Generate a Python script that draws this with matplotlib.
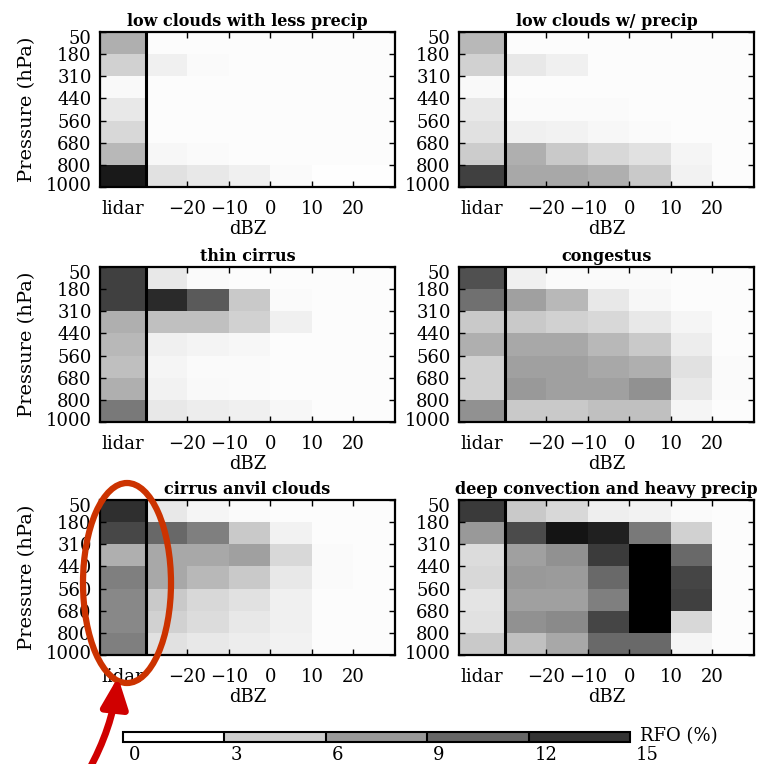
import numpy as np
import matplotlib
matplotlib.use("Agg")
import matplotlib.pyplot as plt
from matplotlib.colors import ListedColormap, BoundaryNorm
from matplotlib.cm import ScalarMappable
from matplotlib.patches import Ellipse, FancyArrowPatch
from matplotlib.transforms import ScaledTranslation

plt.rcParams["font.family"] = ["DejaVu Serif"]

# ---------------------------------------------------------------------------
# RFO (%) per pressure layer (rows, top -> bottom) and column
# (lidar, then dBZ bins -30..-20, -20..-10, -10..0, 0..10, 10..20, 20..30)
# ---------------------------------------------------------------------------

pressure_labels = ["50", "180", "310", "440", "560", "680", "800", "1000"]
dbz_ticks = [-20, -10, 0, 10, 20]
column_edges = [-41, -30, -20, -10, 0, 10, 20, 30]

titles = [
    "low clouds with less precip",
    "low clouds w/ precip",
    "thin cirrus",
    "congestus",
    "cirrus anvil clouds",
    "deep convection and heavy precip",
]

low_less_precip = [
    [4.7, 0.2, 0.2, 0.2, 0.2, 0.2, 0.2],
    [2.7, 0.9, 0.3, 0.2, 0.2, 0.2, 0.2],
    [0.4, 0.2, 0.2, 0.2, 0.2, 0.2, 0.2],
    [1.4, 0.2, 0.2, 0.2, 0.2, 0.2, 0.2],
    [2.3, 0.2, 0.2, 0.2, 0.2, 0.2, 0.2],
    [4.2, 0.5, 0.3, 0.2, 0.2, 0.2, 0.2],
    [13.5, 1.8, 1.4, 0.9, 0.3, 0.1, 0.1],
]

low_with_precip = [
    [4.2, 0.2, 0.2, 0.2, 0.2, 0.2, 0.2],
    [2.7, 1.4, 0.9, 0.2, 0.2, 0.2, 0.2],
    [0.4, 0.2, 0.2, 0.2, 0.2, 0.2, 0.2],
    [1.4, 0.3, 0.3, 0.3, 0.2, 0.2, 0.2],
    [1.8, 0.9, 0.8, 0.5, 0.3, 0.2, 0.2],
    [3.0, 4.7, 3.2, 2.3, 1.8, 0.6, 0.2],
    [11.2, 5.1, 5.1, 4.7, 3.2, 0.8, 0.2],
]

thin_cirrus = [
    [11.2, 1.4, 0.3, 0.2, 0.2, 0.2, 0.2],
    [11.2, 12.5, 9.7, 3.2, 0.3, 0.2, 0.2],
    [4.7, 3.7, 3.7, 2.7, 0.9, 0.2, 0.2],
    [4.2, 0.9, 0.7, 0.5, 0.2, 0.2, 0.2],
    [3.8, 0.6, 0.3, 0.3, 0.2, 0.2, 0.2],
    [4.7, 0.8, 0.4, 0.3, 0.2, 0.2, 0.2],
    [7.9, 1.4, 1.1, 0.9, 0.5, 0.2, 0.2],
]

congestus = [
    [10.3, 0.9, 0.3, 0.3, 0.3, 0.2, 0.2],
    [8.4, 5.6, 4.2, 1.4, 0.5, 0.2, 0.2],
    [3.2, 3.2, 2.7, 2.3, 1.4, 0.6, 0.2],
    [4.7, 5.1, 5.1, 4.2, 3.2, 1.1, 0.2],
    [2.7, 5.6, 5.6, 5.1, 4.7, 1.8, 0.3],
    [2.7, 6.0, 5.6, 5.6, 6.5, 1.4, 0.3],
    [6.5, 3.2, 3.2, 3.7, 3.7, 0.6, 0.2],
]

cirrus_anvil = [
    [12.2, 1.4, 0.6, 0.3, 0.2, 0.2, 0.2],
    [10.8, 8.9, 7.5, 3.2, 0.8, 0.2, 0.2],
    [4.7, 5.1, 5.1, 5.6, 2.3, 0.3, 0.2],
    [7.5, 5.1, 4.2, 3.2, 1.4, 0.3, 0.2],
    [7.0, 3.2, 2.3, 1.8, 0.9, 0.2, 0.2],
    [7.0, 2.7, 2.1, 1.4, 0.9, 0.2, 0.2],
    [7.5, 1.8, 1.4, 1.1, 0.8, 0.2, 0.2],
]

deep_convection = [
    [11.6, 3.2, 2.3, 1.0, 0.8, 0.3, 0.2],
    [6.0, 10.6, 13.8, 13.1, 7.9, 2.7, 0.2],
    [2.1, 5.6, 6.5, 11.5, 18.0, 8.8, 0.2],
    [2.3, 6.0, 5.9, 8.8, 18.0, 10.9, 0.2],
    [1.6, 5.6, 5.6, 7.5, 18.0, 11.2, 0.2],
    [1.8, 6.5, 6.9, 10.9, 18.0, 2.3, 0.2],
    [3.2, 3.7, 5.1, 8.8, 8.8, 0.6, 0.2],
]

panels = [low_less_precip, low_with_precip, thin_cirrus,
          congestus, cirrus_anvil, deep_convection]

rfo_levels = [0, 3, 6, 9, 12, 15]

# ---------------------------------------------------------------------------
# Figure
# ---------------------------------------------------------------------------

W, H = 761, 764
fig = plt.figure(figsize=(W / 100, H / 100), dpi=100)

cmap = plt.get_cmap("gray_r")
vmin, vmax = 0, 15

col_left = [100, 459]
ax_width = 295
row_top = [32, 267, 500]
ax_height = 155


def px_shift(dx, dy):
    return ScaledTranslation(dx / 100, dy / 100, fig.dpi_scale_trans)


for k, data in enumerate(panels):
    r, c = divmod(k, 2)
    left = col_left[c] / W
    bottom = 1 - (row_top[r] + ax_height) / H
    ax = fig.add_axes([left, bottom, ax_width / W, ax_height / H])

    z = np.array(data)
    ax.pcolormesh(column_edges, np.arange(len(pressure_labels)), z,
                  cmap=cmap, vmin=vmin, vmax=vmax, shading="flat")
    ax.axvline(-30, color="black", lw=2.2)

    ax.set_xlim(column_edges[0], column_edges[-1])
    ax.set_ylim(len(pressure_labels) - 1, 0)

    ax.set_xticks([-35.5] + dbz_ticks)
    ax.set_xticklabels(["lidar"] + [str(t).replace("-", "\u2212") for t in dbz_ticks])
    ax.set_yticks(np.arange(len(pressure_labels)))
    ax.set_yticklabels(pressure_labels)
    ax.tick_params(direction="in", length=4, width=1.0, top=True, right=True,
                   labelsize=13)
    ax.tick_params(axis="x", pad=9)
    ax.tick_params(axis="y", pad=6)
    ax.xaxis.get_major_ticks()[0].tick1line.set_visible(False)
    ax.xaxis.get_major_ticks()[0].tick2line.set_visible(False)

    # keep the end labels inside the frame
    ylabels = ax.get_yticklabels()
    ylabels[0].set_transform(ylabels[0].get_transform() + px_shift(0, -5))
    ylabels[-1].set_transform(ylabels[-1].get_transform() + px_shift(0, 3))

    for sp in ax.spines.values():
        sp.set_linewidth(1.6)

    ax.set_xlabel("dBZ", fontsize=13, labelpad=2)
    if c == 0:
        ax.set_ylabel("Pressure (hPa)", fontsize=14, labelpad=7)
    ax.set_title(titles[k], fontsize=11.5, fontweight="bold", pad=4)

# ---------------------------------------------------------------------------
# Stepped colour bar
# ---------------------------------------------------------------------------

step_colors = cmap(np.array(rfo_levels[:-1]) / vmax)
bar_cmap = ListedColormap(step_colors)
bar_norm = BoundaryNorm(rfo_levels, bar_cmap.N)
cax = fig.add_axes([123 / W, 1 - 742 / H, 507 / W, 10 / H])
cb = fig.colorbar(ScalarMappable(norm=bar_norm, cmap=bar_cmap), cax=cax,
                  orientation="horizontal", drawedges=True, ticks=rfo_levels)
cb.outline.set_linewidth(1.5)
cb.dividers.set_linewidth(1.5)
cax.tick_params(length=0, labelsize=13, pad=3)
for lab in cax.get_xticklabels():
    lab.set_horizontalalignment("left")
    lab.set_transform(lab.get_transform() + px_shift(6, 0))
fig.text(640 / W, 1 - 736 / H, "RFO (%)", fontsize=13, va="center", ha="left")

# ---------------------------------------------------------------------------
# Highlight around the lidar column of the anvil panel
# ---------------------------------------------------------------------------

ring = Ellipse((127 / W, 1 - 583 / H), 88 / W, 200 / H, transform=fig.transFigure,
               fill=False, edgecolor="#CC3300", lw=4.5, zorder=10)
fig.add_artist(ring)

arrow = FancyArrowPatch((88 / W, -0.01), (118 / W, 1 - 677 / H),
                        transform=fig.transFigure, color="#D00000",
                        arrowstyle="-|>,head_length=18,head_width=8",
                        connectionstyle="arc3,rad=0.1", lw=5, zorder=10,
                        shrinkA=0, shrinkB=0)
fig.add_artist(arrow)

fig.savefig("out.png", dpi=100)
